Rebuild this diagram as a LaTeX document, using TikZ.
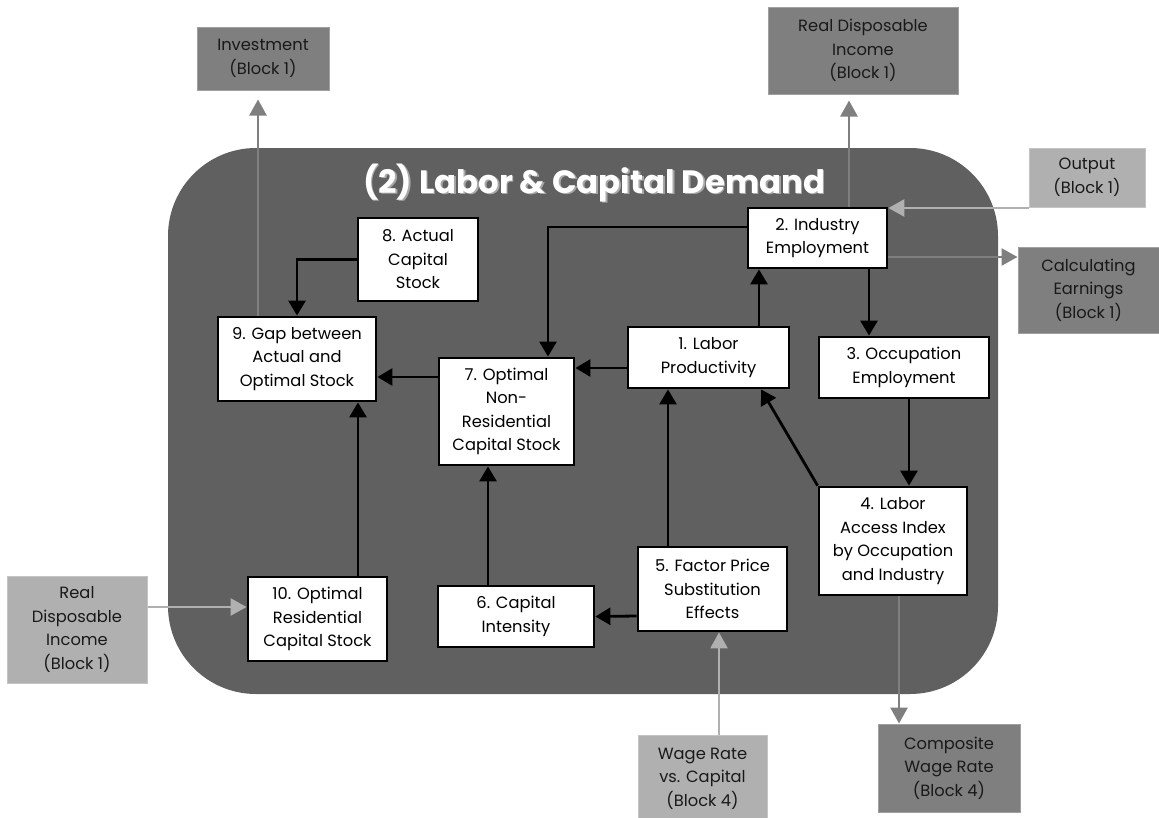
\documentclass[tikz,border=0pt]{standalone}
\usepackage{fontspec}
\setmainfont{Poppins}
\usetikzlibrary{arrows.meta,calc}
\definecolor{panel}{HTML}{606060}
\definecolor{dkbox}{HTML}{7F7F7F}
\definecolor{ltbox}{HTML}{B0B0B0}
\definecolor{dkedge}{HTML}{A0A0A0}
\definecolor{ltedge}{HTML}{C4C4C4}
\definecolor{ttlshadow}{HTML}{A8A8A8}
\begin{document}
\begin{tikzpicture}[x=1pt,y=-1pt,
  boxfont/.style={font=\fontsize{16.3}{23.5}\selectfont},
  inbox/.style={boxfont,draw=black,fill=white,line width=2.8pt,inner sep=0pt,align=center},
  dkout/.style={boxfont,draw=dkedge,fill=dkbox,line width=1pt,inner sep=0pt,align=center,text=black!90},
  ltout/.style={boxfont,draw=ltedge,fill=ltbox,line width=1pt,inner sep=0pt,align=center,text=black!90},
  blk/.style={draw=black,line width=2.8pt,-{Triangle[length=15pt,width=17pt]}},
  gryd/.style={draw=dkbox,line width=2.6pt,-{Triangle[length=16pt,width=17pt]}},
  gryl/.style={draw=ltbox,line width=2.6pt,-{Triangle[length=16pt,width=17pt]}}]
\clip (0,0) rectangle (1159,817);
\fill[white] (0,0) rectangle (1159,817);
% panel
\fill[panel,rounded corners=88pt] (168,148) rectangle (998,694);
\node[font=\fontsize{32.3}{34}\selectfont\bfseries,text=ttlshadow,anchor=base] at (595.7,194.7) {(2) Labor \& Capital Demand};
\node[font=\fontsize{32.3}{34}\selectfont\bfseries,text=white,anchor=base] (title) at (594,193) {(2) Labor \& Capital Demand};

% outer boxes
\node[dkout,minimum width=132pt,minimum height=63pt] (inv) at (263,58.5) {Investment\\(Block 1)};
\node[dkout,minimum width=190pt,minimum height=87pt] (rdiT) at (863,50.5) {Real Disposable\\Income\\(Block 1)};
\node[ltout,minimum width=116pt,minimum height=59pt] (out) at (1087,177.5) {Output\\(Block 1)};
\node[dkout,minimum width=141pt,minimum height=86pt] (calc) at (1088.5,290) {Calculating\\Earnings\\(Block 1)};
\node[ltout,minimum width=140pt,minimum height=107pt] (rdiL) at (77,629.5) {Real\\Disposable\\Income\\(Block 1)};
\node[ltout,minimum width=129pt,minimum height=87pt] (wage) at (702.5,778.5) {Wage Rate\\vs. Capital\\(Block 4)};
\node[dkout,minimum width=142pt,minimum height=88pt] (comp) at (949,768) {Composite\\Wage Rate\\(Block 4)};

% inner boxes
\node[inbox,minimum width=120pt,minimum height=83pt] (n8) at (418,259.5) {8. Actual\\Capital\\Stock};
\node[inbox,minimum width=139pt,minimum height=60pt] (n2) at (817.5,238) {2. Industry\\Employment};
\node[inbox,minimum width=158pt,minimum height=84pt] (n9) at (297,359) {9. Gap between\\Actual and\\Optimal Stock};
\node[inbox,minimum width=135pt,minimum height=107pt] (n7) at (506.5,411.5) {7. Optimal\\Non-\\Residential\\Capital Stock};
\node[inbox,minimum width=161pt,minimum height=61pt] (n1) at (708.5,357.5) {1. Labor\\Productivity};
\node[inbox,minimum width=170pt,minimum height=61pt] (n3) at (904,367.5) {3. Occupation\\Employment};
\node[inbox,minimum width=148pt,minimum height=108pt] (n4) at (893,541) {4. Labor\\Access Index\\by Occupation\\and Industry};
\node[inbox,minimum width=149pt,minimum height=84pt] (n5) at (712.5,589) {5. Factor Price\\Substitution\\Effects};
\node[inbox,minimum width=156pt,minimum height=61pt] (n6) at (516,616.5) {6. Capital\\Intensity};
\node[inbox,minimum width=139pt,minimum height=84pt] (n10) at (317.5,619) {10. Optimal\\Residential\\Capital Stock};

% gray connectors
\draw[gryd,shorten >=9pt] ([xshift=-39pt]n9.north) -- ([xshift=-5pt]inv.south);
\draw[gryd,shorten >=6pt] ([xshift=31.5pt]n2.north) -- ([xshift=-14pt]rdiT.south);
\draw[gryl] ([yshift=-30.5pt]out.west) -- ([yshift=30pt]n2.east);
\draw[gryd] ([yshift=-19pt]n2.east) -- ([yshift=33pt]calc.west);
\draw[gryl] ([yshift=22.5pt]rdiL.east) -- ([yshift=12pt]n10.west);
\draw[gryl] ([xshift=16.5pt]wage.north) -- ([xshift=6.5pt]n5.south);
\draw[gryd] ([xshift=6pt]n4.south) -- ([xshift=-50pt]comp.north);

% black connectors
\draw[blk] (n8.west) -| (n9.north);
\draw[blk] ([yshift=11pt]n2.west) -| ([xshift=41.5pt]n7.north);
\draw[blk] ([yshift=34.5pt]n7.west) -- ([yshift=-18pt]n9.east);
\draw[blk] ([yshift=-10.5pt]n1.west) -- ([yshift=43.5pt]n7.east);
\draw[blk] ([xshift=50.5pt]n1.north) -- ([xshift=-58.5pt]n2.south);
\draw[blk] ([xshift=51.5pt]n2.south) -- ([xshift=-35pt]n3.north);
\draw[blk] ([xshift=5pt]n3.south) -- ([xshift=16pt]n4.north);
\draw[blk] (n4.north west) -- ([xshift=52.5pt]n1.south);
\draw[blk] ([xshift=-44.5pt]n5.north) -- ([xshift=-40.5pt]n1.south);
\draw[blk] ([yshift=-27pt]n5.west) -- (n6.east);
\draw[blk] ([xshift=-28pt]n6.north) -- ([xshift=-18.5pt]n7.south);
\draw[blk] ([xshift=40.5pt]n10.north) -- ([xshift=61pt]n9.south);
\end{tikzpicture}
\end{document}
